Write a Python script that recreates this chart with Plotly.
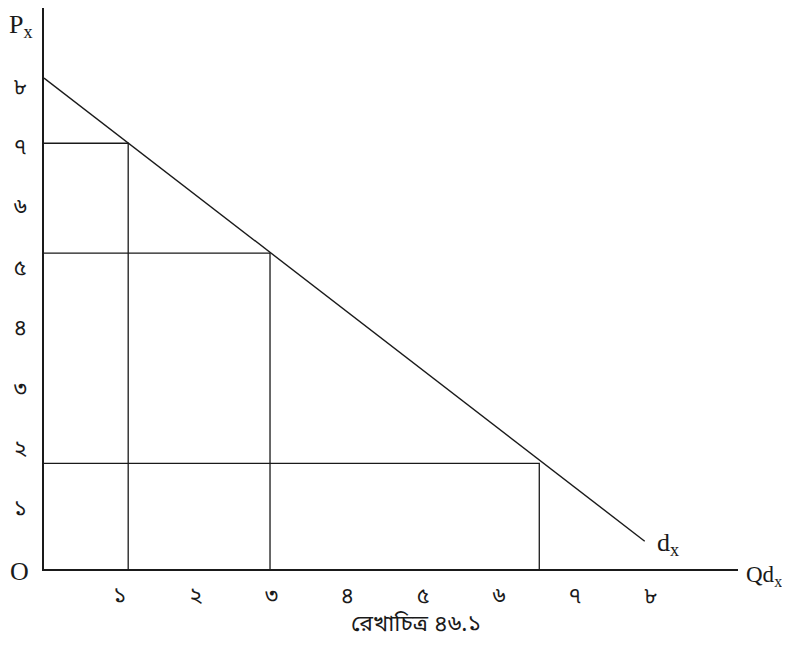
import plotly.graph_objects as go

# Demand schedule (Q on x, P on y)
quantity = [1.11, 2.98, 6.53]
price = [7.05, 5.23, 1.75]
demand_q = [0.0, 7.92]
demand_p = [8.13, 0.46]

tick_values = [1, 2, 3, 4, 5, 6, 7, 8]
tick_text = ["১", "২", "৩", "৪", "৫", "৬", "৭", "৮"]
caption = "রেখাচিত্র ৪৬.১"

BN_FONT = "Noto Sans Bengali, Noto Serif Bengali, Lohit Bengali, FreeSerif, Noto Sans, sans-serif"
SERIF = "Liberation Serif, Times New Roman, serif"
INK = "#1a1a1a"

fig = go.Figure()

# demand curve
fig.add_trace(go.Scatter(x=demand_q, y=demand_p, mode="lines",
                         line=dict(color=INK, width=1.4), hoverinfo="skip", showlegend=False))

# guide lines to each point
for q, p in zip(quantity, price):
    fig.add_trace(go.Scatter(x=[0, q, q], y=[p, p, 0], mode="lines",
                             line=dict(color=INK, width=1.3), hoverinfo="skip", showlegend=False))

axis_common = dict(showgrid=False, zeroline=False, showline=True, linecolor=INK, linewidth=1.5,
                   ticks="", tickvals=tick_values, ticktext=tick_text,
                   tickfont=dict(family=BN_FONT, size=22, color=INK), fixedrange=True)

fig.update_layout(
    width=782, height=640,
    margin=dict(l=36, r=52, t=0, b=79),
    paper_bgcolor="white", plot_bgcolor="white",
    xaxis=dict(range=[0, 9.15], ticklabelstandoff=6, **axis_common),
    yaxis=dict(range=[0, 9.29], ticklabelstandoff=11, **axis_common),
)

big = dict(family=SERIF, size=26, color=INK)
fig.add_annotation(x=-0.033, y=1.0, xref="paper", yref="paper", text="P<sub>x</sub>",
                   showarrow=False, xanchor="center", yanchor="top", font=big)
fig.add_annotation(x=-0.035, y=-0.005, xref="paper", yref="paper", text="O",
                   showarrow=False, xanchor="center", yanchor="middle", font=big)
fig.add_annotation(x=1.009, y=-0.012, xref="paper", yref="paper", text="Qd<sub>x</sub>",
                   showarrow=False, xanchor="left", yanchor="middle",
                   font=dict(family=SERIF, size=23, color=INK))
fig.add_annotation(x=8.06, y=0.42, xref="x", yref="y", text="d<sub>x</sub>",
                   showarrow=False, xanchor="left", yanchor="middle", font=big)
fig.add_annotation(x=0.536, y=-0.1, xref="paper", yref="paper", text=caption,
                   showarrow=False, xanchor="center", yanchor="middle",
                   font=dict(family=BN_FONT, size=23, color=INK))

fig.write_html("out.html")
